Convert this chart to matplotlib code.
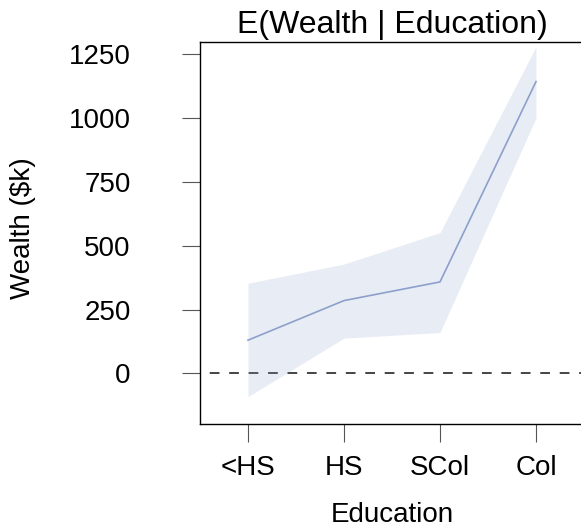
import matplotlib
matplotlib.use("Agg")
import matplotlib.pyplot as plt

plt.rcParams['font.family'] = ['Liberation Sans', 'DejaVu Sans']

# data
education = ["<HS", "HS", "SCol", "Col"]
wealth_mean = [130, 285, 358, 1142]
wealth_lo = [-91, 138, 160, 1000]
wealth_hi = [353, 428, 551, 1278]
yticks = [0, 250, 500, 750, 1000, 1250]

line_col = "#8DA0CB"

fig = plt.figure(figsize=(5.81, 5.28), dpi=100)
# plotting region runs a little past the right edge of the picture
ax = fig.add_axes([200/581, 104/528, 384/581, 382/528])

x = list(range(1, len(education) + 1))

ax.axhline(0, color="#444444", lw=1.4, linestyle=(5, (5, 5)), zorder=1)
ax.fill_between(x, wealth_lo, wealth_hi, color=line_col, alpha=0.2, lw=0, zorder=2)
ax.plot(x, wealth_mean, color=line_col, lw=1.2, zorder=3)

ax.set_xlim(0.5, 4.5)
ax.set_ylim(-198, 1297)
ax.set_xticks(x)
ax.set_xticklabels(education)
ax.set_yticks(yticks)

for s in ax.spines.values():
    s.set_linewidth(1.0)
    s.set_color("black")

ax.tick_params(axis='both', labelsize=20, length=13, width=0.8, color="#555555")
ax.tick_params(axis='x', pad=9)
ax.tick_params(axis='y', pad=37)

ax.set_title("E(Wealth | Education)", fontsize=23, pad=6.5)
fig.text(392/581, 1 - 522/528, "Education", fontsize=20, ha='center', va='baseline')
fig.text(23/581, 1 - 228/528, "Wealth ($k)", fontsize=20, ha='center', va='center', rotation=90)

fig.savefig("out.png", dpi=100)
